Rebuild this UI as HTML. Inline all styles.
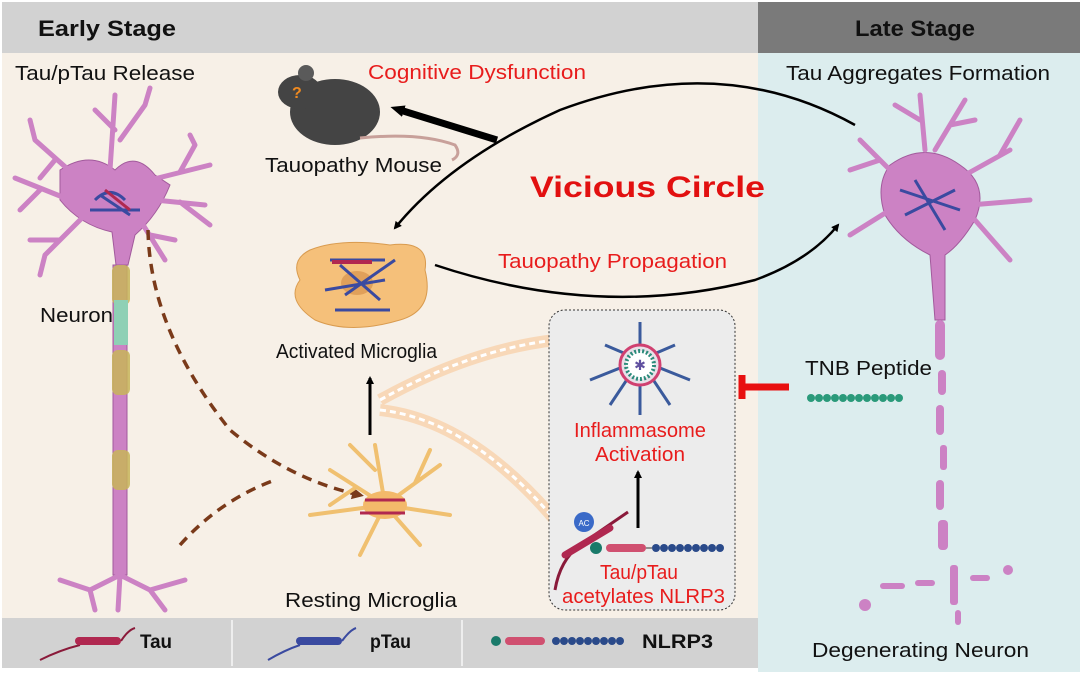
<!DOCTYPE html>
<html><head><meta charset="utf-8"><style>
body{margin:0;width:1080px;height:672px;overflow:hidden;background:#fff;font-family:"Liberation Sans",sans-serif}
</style></head><body>
<svg width="1080" height="672" viewBox="0 0 1080 672" xmlns="http://www.w3.org/2000/svg" font-family="Liberation Sans, sans-serif">
<defs>
<marker id="ah" markerWidth="8" markerHeight="8" refX="6" refY="4" orient="auto" markerUnits="userSpaceOnUse"><path d="M0,0 L8,4 L0,8 z" fill="#000"/></marker>
<marker id="ahb" markerWidth="14" markerHeight="12" refX="4" refY="6" orient="auto" markerUnits="userSpaceOnUse"><path d="M0,0 L14,6 L0,12 z" fill="#000"/></marker>
<marker id="ahr" markerWidth="12" markerHeight="12" refX="8" refY="6" orient="auto" markerUnits="userSpaceOnUse"><path d="M0,0 L12,6 L0,12 z" fill="#7a3a1a"/></marker>
</defs>
<rect x="0" y="0" width="1080" height="672" fill="#fff"/>
<rect x="2" y="53" width="756" height="565" fill="#f7f0e7"/>
<rect x="758" y="53" width="322" height="619" fill="#dcedee"/>
<rect x="2" y="2" width="756" height="51" fill="#d2d2d2"/>
<rect x="758" y="2" width="322" height="51" fill="#7a7a7a"/>
<text x="38" y="36" font-size="22" font-weight="bold" fill="#111" textLength="138" lengthAdjust="spacingAndGlyphs">Early Stage</text>
<text x="855" y="36" font-size="22" font-weight="bold" fill="#111" textLength="120" lengthAdjust="spacingAndGlyphs">Late Stage</text>
<rect x="2" y="618" width="756" height="50" fill="#d2d2d2"/>
<line x1="232" y1="620" x2="232" y2="666" stroke="#eee" stroke-width="2"/>
<line x1="462" y1="620" x2="462" y2="666" stroke="#eee" stroke-width="2"/>

<g font-size="20" lengthAdjust="spacingAndGlyphs">
<text x="15" y="80" fill="#111" textLength="180" lengthAdjust="spacingAndGlyphs">Tau/pTau Release</text>
<text x="368" y="79" fill="#e81c1c" textLength="218" lengthAdjust="spacingAndGlyphs">Cognitive Dysfunction</text>
<text x="265" y="172" fill="#111" textLength="177" lengthAdjust="spacingAndGlyphs">Tauopathy Mouse</text>
<text x="498" y="268" fill="#e81c1c" textLength="229" lengthAdjust="spacingAndGlyphs">Tauopathy Propagation</text>
<text x="40" y="322" fill="#111" textLength="73" lengthAdjust="spacingAndGlyphs">Neuron</text>
<text x="276" y="358" fill="#111" textLength="161" lengthAdjust="spacingAndGlyphs">Activated Microglia</text>
<text x="285" y="607" fill="#111" textLength="172" lengthAdjust="spacingAndGlyphs">Resting Microglia</text>
<text x="786" y="80" fill="#111" textLength="264" lengthAdjust="spacingAndGlyphs">Tau Aggregates Formation</text>
<text x="805" y="375" fill="#111" textLength="127" lengthAdjust="spacingAndGlyphs">TNB Peptide</text>
<text x="812" y="657" fill="#111" textLength="217" lengthAdjust="spacingAndGlyphs">Degenerating Neuron</text>
</g>
<text x="530" y="197" font-size="30" font-weight="bold" fill="#e21010" textLength="235" lengthAdjust="spacingAndGlyphs">Vicious Circle</text>

<!-- neuron left -->
<g fill="#cc82c4" stroke="#a25a9c" stroke-width="1">
<path d="M60,170 Q90,150 115,170 Q135,150 155,175 L170,185 Q158,215 135,235 L128,265 L116,265 L112,232 Q80,225 60,200 Z"/>
<path d="M113,265 h14 v310 h-14 z"/>
</g>
<g stroke="#cc82c4" stroke-width="5" fill="none" stroke-linecap="round">
<path d="M110,170 L115,95 M115,130 L95,110 M120,140 L145,105 M145,105 L150,88"/>
<path d="M80,180 L35,140 M55,160 L40,178 M35,140 L30,120"/>
<path d="M70,200 L15,178 M40,190 L20,210"/>
<path d="M85,215 L45,255 M60,240 L30,240 M45,255 L40,275"/>
<path d="M150,180 L210,165 M180,172 L195,145 M195,145 L190,135"/>
<path d="M155,200 L205,205 M180,202 L210,225"/>
<path d="M140,220 L165,260 M150,235 L175,240"/>
<path d="M120,575 L90,590 M90,590 L60,580 M90,590 L95,610 M120,575 L150,590 M150,590 L165,610 M150,590 L185,580 M120,575 L118,610"/>
</g>
<g fill="#c8b55a" opacity="0.85">
<rect x="112" y="265" width="18" height="40" rx="6"/>
<rect x="112" y="350" width="18" height="45" rx="6"/>
<rect x="112" y="450" width="18" height="40" rx="6"/>
</g>
<rect x="114" y="300" width="14" height="45" fill="#8ed0b5"/>
<path d="M95,200 q15,-15 30,0 M90,210 h50 M100,195 l30,20" stroke="#3a4aa0" stroke-width="3" fill="none"/>
<path d="M105,190 l25,20" stroke="#b02850" stroke-width="3"/>

<!-- dashed brown arrows -->
<path d="M148,230 Q150,330 230,430 Q290,480 360,495" stroke="#7a3a1a" stroke-width="3.5" fill="none" stroke-dasharray="10,7" marker-end="url(#ahr)"/>
<path d="M180,545 Q220,500 275,480" stroke="#7a3a1a" stroke-width="3.5" fill="none" stroke-dasharray="10,7"/>

<!-- mouse -->
<ellipse cx="335" cy="112" rx="45" ry="33" fill="#444"/>
<ellipse cx="300" cy="92" rx="22" ry="17" fill="#444"/>
<circle cx="306" cy="73" r="8" fill="#5a5a5a"/>
<text x="292" y="98" font-size="16" font-weight="bold" fill="#f08a20">?</text>
<path d="M360,138 Q420,132 455,145 Q462,155 452,160" stroke="#c8a09a" stroke-width="3" fill="none"/>
<line x1="497" y1="140" x2="400" y2="110" stroke="#000" stroke-width="7" marker-end="url(#ahb)"/>

<!-- curves -->
<path d="M855,125 Q720,50 560,110 Q450,160 395,228" stroke="#000" stroke-width="2.5" fill="none" marker-end="url(#ah)"/>
<path d="M435,265 Q600,320 755,280 Q810,260 838,225" stroke="#000" stroke-width="2.5" fill="none" marker-end="url(#ah)"/>

<!-- activated microglia -->
<path d="M310,250 Q340,238 390,245 Q430,240 425,270 Q435,310 400,320 Q350,335 315,320 Q285,300 300,280 Q290,260 310,250Z" fill="#f5c07a" stroke="#d99b4f"/>
<ellipse cx="357" cy="283" rx="16" ry="12" fill="#e0a05a"/>
<path d="M330,260 h55 M335,310 h55 M340,265 l40,35 M345,295 l50,-35 M325,290 l60,-10" stroke="#3a4aa0" stroke-width="3" fill="none"/>
<path d="M332,262 h40" stroke="#b02850" stroke-width="4"/>
<line x1="370" y1="435" x2="370" y2="378" stroke="#000" stroke-width="3" marker-end="url(#ah)"/>

<!-- resting microglia -->
<g stroke="#f0c070" stroke-width="4" fill="none" stroke-linecap="round">
<path d="M385,505 L330,470 M355,488 L330,505 M385,505 L375,445 M375,470 L350,445 M385,505 L440,465 M415,483 L430,450 M385,505 L450,515 M385,505 L420,545 M385,505 L360,555 M385,505 L310,515"/>
</g>
<ellipse cx="385" cy="505" rx="22" ry="14" fill="#f3b96a"/>
<path d="M365,500 h40 M360,513 h45" stroke="#b02850" stroke-width="3"/>

<!-- light orange band -->
<path d="M380,400 Q470,350 555,340 M380,410 Q470,420 555,520" stroke="#f8d8b8" stroke-width="12" fill="none"/>
<path d="M380,400 Q470,350 555,340 M380,410 Q470,420 555,520" stroke="#fff" stroke-width="3" fill="none" stroke-dasharray="6,4"/>

<!-- inflammasome box -->
<rect x="549" y="310" width="186" height="300" rx="16" fill="#ececec" stroke="#333" stroke-width="1" stroke-dasharray="2,2"/>
<g stroke="#3a5a9c" stroke-width="3">
<line x1="640" y1="360" x2="640" y2="322"/><line x1="640" y1="360" x2="605" y2="345"/><line x1="640" y1="360" x2="675" y2="345"/>
<line x1="640" y1="360" x2="590" y2="380"/><line x1="640" y1="360" x2="690" y2="380"/><line x1="640" y1="360" x2="610" y2="405"/>
<line x1="640" y1="360" x2="670" y2="405"/><line x1="640" y1="360" x2="640" y2="415"/>
</g>
<circle cx="640" cy="365" r="20" fill="#e8e0e8" stroke="#d04070" stroke-width="3"/>
<circle cx="640" cy="365" r="14" fill="#fff" stroke="#2a8a7a" stroke-width="4" stroke-dasharray="2,2"/>
<text x="640" y="370" font-size="14" fill="#6050a0" text-anchor="middle">✱</text>
<text x="574" y="437" font-size="20" fill="#e81c1c" textLength="132" lengthAdjust="spacingAndGlyphs">Inflammasome</text>
<text x="595" y="461" font-size="20" fill="#e81c1c" textLength="90" lengthAdjust="spacingAndGlyphs">Activation</text>
<line x1="638" y1="528" x2="638" y2="472" stroke="#000" stroke-width="3" marker-end="url(#ah)"/>
<path d="M555,590 Q560,560 580,545 L628,512" stroke="#8a1a3a" stroke-width="3" fill="none"/>
<path d="M565,555 L610,528" stroke="#b02850" stroke-width="7" stroke-linecap="round"/>
<circle cx="584" cy="522" r="10" fill="#3a6ac8"/><text x="584" y="526" font-size="8" fill="#fff" text-anchor="middle">AC</text>
<circle cx="596" cy="548" r="6" fill="#1a7a6a"/>
<rect x="606" y="544" width="40" height="8" rx="4" fill="#d05070"/>
<line x1="646" y1="548" x2="652" y2="548" stroke="#333"/>
<g fill="#2a4a8a"><circle cx="656" cy="548" r="4"/><circle cx="664" cy="548" r="4"/><circle cx="672" cy="548" r="4"/><circle cx="680" cy="548" r="4"/><circle cx="688" cy="548" r="4"/><circle cx="696" cy="548" r="4"/><circle cx="704" cy="548" r="4"/><circle cx="712" cy="548" r="4"/><circle cx="720" cy="548" r="4"/></g>
<text x="600" y="579" font-size="20" fill="#e81c1c" textLength="78" lengthAdjust="spacingAndGlyphs">Tau/pTau</text>
<text x="562" y="603" font-size="20" fill="#e81c1c" textLength="163" lengthAdjust="spacingAndGlyphs">acetylates NLRP3</text>

<!-- TNB inhibitor -->
<line x1="743" y1="387" x2="789" y2="387" stroke="#e81010" stroke-width="7"/>
<line x1="742" y1="375" x2="742" y2="399" stroke="#e81010" stroke-width="7"/>
<g fill="#2a9a7a"><circle cx="811" cy="398" r="4"/><circle cx="819" cy="398" r="4"/><circle cx="827" cy="398" r="4"/><circle cx="835" cy="398" r="4"/><circle cx="843" cy="398" r="4"/><circle cx="851" cy="398" r="4"/><circle cx="859" cy="398" r="4"/><circle cx="867" cy="398" r="4"/><circle cx="875" cy="398" r="4"/><circle cx="883" cy="398" r="4"/><circle cx="891" cy="398" r="4"/><circle cx="899" cy="398" r="4"/></g>

<!-- late neuron -->
<path d="M890,165 Q925,140 960,165 Q990,185 975,220 Q960,245 945,255 L945,320 L935,320 L930,255 Q900,240 885,215 Q875,185 890,165Z" fill="#cc82c4" stroke="#a25a9c"/>
<g stroke="#cc82c4" stroke-width="5" fill="none" stroke-linecap="round">
<path d="M925,150 L920,95 M920,120 L895,105 M935,150 L965,100 M950,125 L975,120"/>
<path d="M895,175 L860,140 M880,160 L850,170"/>
<path d="M890,210 L850,235 M965,175 L1010,150 M1000,155 L1020,120 M970,205 L1030,200 M975,220 L1010,260"/>
</g>
<path d="M900,190 l60,20 M905,215 l50,-25 M915,180 l30,50" stroke="#3a4aa0" stroke-width="3"/>
<g fill="#cc82c4">
<rect x="935" y="320" width="10" height="40" rx="5"/><rect x="938" y="370" width="8" height="25" rx="4"/><rect x="936" y="405" width="8" height="30" rx="4"/>
<rect x="940" y="445" width="7" height="25" rx="3"/><rect x="936" y="480" width="8" height="30" rx="4"/><rect x="938" y="520" width="10" height="30" rx="4"/>
<rect x="880" y="583" width="25" height="6" rx="3"/><rect x="915" y="580" width="20" height="6" rx="3"/><rect x="950" y="565" width="8" height="40" rx="3"/><rect x="970" y="575" width="20" height="6" rx="3"/><circle cx="1008" cy="570" r="5"/><rect x="955" y="610" width="6" height="15" rx="3"/><circle cx="865" cy="605" r="6"/>
</g>

<!-- legend -->
<path d="M40,660 Q60,650 80,645" stroke="#8a1a3a" stroke-width="2" fill="none"/>
<rect x="75" y="637" width="46" height="8" rx="4" fill="#b02850"/>
<path d="M121,641 Q128,630 135,628" stroke="#8a1a3a" stroke-width="2" fill="none"/>
<text x="140" y="648" font-size="19" font-weight="bold" fill="#111" textLength="32" lengthAdjust="spacingAndGlyphs">Tau</text>
<path d="M268,660 Q285,650 300,645" stroke="#3a4aa0" stroke-width="2" fill="none"/>
<rect x="296" y="637" width="46" height="8" rx="4" fill="#3a4aa0"/>
<path d="M342,641 Q350,630 356,628" stroke="#3a4aa0" stroke-width="2" fill="none"/>
<text x="370" y="648" font-size="19" font-weight="bold" fill="#111" textLength="41" lengthAdjust="spacingAndGlyphs">pTau</text>
<circle cx="496" cy="641" r="5" fill="#1a7a6a"/>
<rect x="505" y="637" width="40" height="8" rx="4" fill="#d05070"/>
<g fill="#2a4a8a"><circle cx="556" cy="641" r="4"/><circle cx="564" cy="641" r="4"/><circle cx="572" cy="641" r="4"/><circle cx="580" cy="641" r="4"/><circle cx="588" cy="641" r="4"/><circle cx="596" cy="641" r="4"/><circle cx="604" cy="641" r="4"/><circle cx="612" cy="641" r="4"/><circle cx="620" cy="641" r="4"/></g>
<text x="642" y="648" font-size="19" font-weight="bold" fill="#111" textLength="71" lengthAdjust="spacingAndGlyphs">NLRP3</text>
</svg>
</body></html>
